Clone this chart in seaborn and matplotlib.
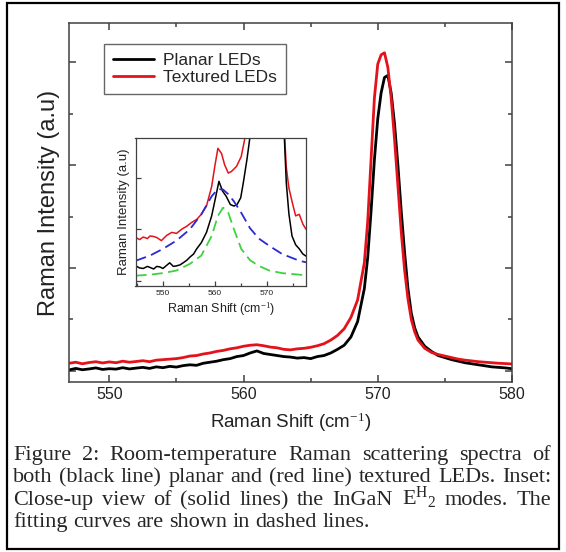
import matplotlib
matplotlib.use("Agg")
import matplotlib.pyplot as plt
from matplotlib.patches import Rectangle
from matplotlib.ticker import MultipleLocator, NullFormatter
import seaborn as sns
import pandas as pd

# main spectra (arbitrary intensity units)
main_x = [547.0, 547.5, 548.0, 548.5, 549.0, 549.5, 550.0, 550.5, 551.0, 551.5,
          552.0, 552.5, 553.0, 553.5, 554.0, 554.5, 555.0, 555.5, 556.0, 556.5,
          557.0, 557.5, 558.0, 558.5, 559.0, 559.5, 560.0, 560.5, 561.0, 561.5,
          562.0, 562.5, 563.0, 563.5, 564.0, 564.5, 565.0, 565.5, 566.0, 566.5,
          567.0, 567.5, 568.0, 568.5, 569.0, 569.25, 569.5, 569.75, 570.0, 570.25,
          570.5, 570.75, 571.0, 571.25, 571.5, 571.75, 572.0, 572.25, 572.5, 572.75,
          573.0, 573.5, 574.0, 574.5, 575.0, 575.5, 576.0, 576.5, 577.0, 577.5,
          578.0, 578.5, 579.0, 579.5, 580.0]
planar = [1010, 1025, 1012, 1020, 1030, 1015, 1022, 1018, 1032, 1020,
          1028, 1035, 1025, 1040, 1032, 1045, 1038, 1052, 1060, 1055,
          1075, 1085, 1095, 1110, 1120, 1140, 1150, 1175, 1195, 1170,
          1160, 1150, 1140, 1135, 1125, 1130, 1120, 1140, 1150, 1175,
          1210, 1250, 1330, 1480, 1800, 2100, 2550, 3050, 3450, 3700,
          3850, 3870, 3700, 3400, 3000, 2550, 2150, 1800, 1560, 1420,
          1330, 1240, 1190, 1150, 1130, 1110, 1095, 1080, 1070, 1060,
          1050, 1040, 1035, 1030, 1022]
textured = [1075, 1085, 1070, 1082, 1090, 1078, 1088, 1080, 1095, 1085,
            1092, 1100, 1090, 1105, 1110, 1115, 1120, 1130, 1145, 1150,
            1165, 1175, 1190, 1200, 1215, 1225, 1240, 1250, 1255, 1245,
            1232, 1225, 1210, 1205, 1215, 1220, 1230, 1245, 1265, 1300,
            1345, 1410, 1520, 1690, 2050, 2450, 3050, 3650, 3980, 4070,
            4090, 3950, 3650, 3250, 2800, 2350, 1980, 1700, 1500, 1380,
            1300, 1220, 1180, 1160, 1145, 1130, 1115, 1105, 1098, 1090,
            1085, 1080, 1075, 1072, 1068]

# inset close-up
ins_red_x = [544.75, 545.5, 546.2, 547.0, 547.5, 548.2, 548.8, 549.7, 550.7, 551.7,
             552.6, 553.6, 554.6, 555.5, 556.5, 557.4, 558.4, 559.4, 560.0, 560.6,
             561.3, 561.9, 562.6, 563.2, 564.2, 565.1, 565.8, 566.5,
             573.2, 573.8, 574.3, 575.0, 575.6, 576.3, 577.0, 577.6]
ins_red_y = [1.84, 1.80, 1.85, 1.82, 1.87, 1.86, 1.84, 1.78, 1.88, 1.94,
             1.92, 2.00, 2.06, 2.13, 2.19, 2.29, 2.45, 2.83, 3.22, 3.57,
             3.47, 3.25, 3.09, 3.12, 3.22, 3.41, 3.76, 4.30,
             4.30, 3.20, 2.80, 2.50, 2.26, 2.29, 2.10, 2.00]
ins_blk_x = [544.75, 545.5, 546.2, 547.0, 547.5, 548.2, 548.8, 549.4, 550.0, 550.7,
             551.3, 552.0, 552.6, 553.3, 553.9, 554.6, 555.2, 555.9, 556.5, 557.4,
             558.4, 559.4, 560.2, 560.8, 561.5, 562.2, 563.0, 563.7, 564.3, 565.0,
             565.5, 566.2, 566.8, 567.3,
             573.2, 573.8, 574.3, 574.9, 575.6, 576.3, 577.0, 577.6]
ins_blk_y = [1.29, 1.25, 1.24, 1.28, 1.26, 1.23, 1.28, 1.27, 1.24, 1.30,
             1.35, 1.28, 1.29, 1.31, 1.35, 1.40, 1.46, 1.52, 1.62, 1.74,
             1.94, 2.26, 2.64, 2.93, 2.74, 2.64, 2.48, 2.45, 2.48, 2.61,
             2.90, 3.35, 3.80, 4.30,
             4.30, 2.90, 2.30, 1.87, 1.70, 1.62, 1.52, 1.48]
fit_x = [544.75, 547.5, 550.0, 552.6, 555.2, 557.4, 559.4, 560.6, 561.6, 562.6,
         563.7, 565.1, 566.8, 568.5, 570.5, 573.0, 576.3, 577.6]
fit_broad = [1.39, 1.49, 1.62, 1.78, 2.00, 2.29, 2.64, 2.78, 2.77, 2.68,
             2.54, 2.32, 2.02, 1.82, 1.68, 1.52, 1.39, 1.36]
fit_narrow = [1.10, 1.12, 1.15, 1.20, 1.33, 1.49, 1.87, 2.26, 2.42, 2.32,
              2.00, 1.62, 1.40, 1.29, 1.20, 1.15, 1.12, 1.11]

caption = [
    "Figure 2: Room-temperature Raman scattering spectra of",
    "both (black line) planar and (red line) textured LEDs. Inset:",
    r"Close-up view of (solid lines) the InGaN E$^{\mathrm{H}}$$_{2}$ modes. The",
    "fitting curves are shown in dashed lines.",
]

sns.set_style("ticks")
plt.rcParams['font.family'] = ['Liberation Sans', 'DejaVu Sans']
plt.rcParams['mathtext.fontset'] = 'custom'
plt.rcParams['mathtext.rm'] = 'Liberation Serif'
plt.rcParams['mathtext.it'] = 'Liberation Serif:italic'

W, H = 566, 552
fig = plt.figure(figsize=(W / 100, H / 100), dpi=100)


def px_axes(l, t, r, b):
    return fig.add_axes([l / W, 1 - b / H, (r - l) / W, (b - t) / H])


def style_ax(ax, size, lw):
    for s in ax.spines.values():
        s.set_color('#404040')
        s.set_linewidth(lw)
    ax.tick_params(which='both', direction='in', top=True, right=True,
                   color='#404040', width=lw, labelsize=size, labelcolor='#222222')


df = pd.DataFrame({'x': main_x, 'Planar LEDs': planar, 'Textured LEDs': textured})
ax = px_axes(69, 23, 512, 382)
sns.lineplot(data=df, x='x', y='Planar LEDs', color='black', lw=2, ax=ax, label='Planar LEDs')
sns.lineplot(data=df, x='x', y='Textured LEDs', color='#e3121b', lw=2, ax=ax, label='Textured LEDs')
ax.set_xlim(547, 580)
ax.set_ylim(893, 4379)
ax.xaxis.set_major_locator(MultipleLocator(10))
ax.xaxis.set_minor_locator(MultipleLocator(5))
ax.yaxis.set_major_locator(MultipleLocator(1000))
ax.yaxis.set_minor_locator(MultipleLocator(500))
ax.yaxis.set_major_formatter(NullFormatter())
style_ax(ax, 11.5, 1.1)
ax.tick_params(which='major', length=5)
ax.tick_params(which='minor', length=3)
ax.set_xlabel('Raman Shift (cm$^{-1}$)', fontsize=13.5, color='#222222', labelpad=6)
ax.set_ylabel('Raman Intensity (a.u)', fontsize=17, color='#222222', labelpad=3)
leg = ax.legend(loc='upper left', bbox_to_anchor=(0.079, 0.9415), borderaxespad=0,
                fontsize=12.5, frameon=True, fancybox=False, handlelength=2.4,
                labelspacing=0.12, borderpad=0.5, handletextpad=0.5)
leg.get_frame().set_edgecolor('#404040')
leg.get_frame().set_linewidth(1.0)

# inset
ax2 = px_axes(135.5, 138, 306, 286)
sns.lineplot(x=ins_red_x, y=ins_red_y, color='#e3121b', lw=1.1, ax=ax2)
sns.lineplot(x=ins_blk_x, y=ins_blk_y, color='black', lw=1.1, ax=ax2)
sns.lineplot(x=fit_x, y=fit_broad, color='#2a2ad2', lw=1.3, ax=ax2, linestyle=(0, (6, 3)))
sns.lineplot(x=fit_x, y=fit_narrow, color='#3fd23f', lw=1.3, ax=ax2, linestyle=(0, (6, 3)))
ax2.set_xlim(544.7, 577.6)
ax2.set_ylim(0.9, 3.77)
ax2.xaxis.set_major_locator(MultipleLocator(10))
ax2.xaxis.set_minor_locator(MultipleLocator(5))
ax2.yaxis.set_major_locator(MultipleLocator(1))
ax2.yaxis.set_major_formatter(NullFormatter())
style_ax(ax2, 6, 0.9)
ax2.tick_params(which='both', top=False, right=False)
ax2.tick_params(which='major', length=3.5, pad=3)
ax2.tick_params(which='minor', length=2)
ax2.set_xlabel('Raman Shift (cm$^{-1}$)', fontsize=9, color='#222222', labelpad=2)
ax2.set_ylabel('Raman Intensity (a.u)', fontsize=9.5, color='#222222', labelpad=1)

# outer frame
fig.patches.append(Rectangle((7 / W, 3 / H), (559 - 7) / W, (549 - 3) / H,
                             transform=fig.transFigure, fill=False, lw=1.6,
                             edgecolor='black'))

# justified caption, font sized so the second line fills the width naturally
renderer = fig.canvas.get_renderer()
x0, x1 = 13, 551
probe = fig.text(0, 0, caption[1], fontsize=14, family='Liberation Serif')
cap_fs = min(16, 14 * (x1 - x0 - 4) / probe.get_window_extent(renderer).width)
probe.remove()
baselines = [460, 482, 505, 527]
for i, line in enumerate(caption):
    words = line.split(' ')
    texts = [fig.text(0, 0, w, fontsize=cap_fs, family='Liberation Serif', va='baseline')
             for w in words]
    widths = [t.get_window_extent(renderer).width for t in texts]
    if i < len(caption) - 1:
        gap = (x1 - x0 - sum(widths)) / (len(words) - 1)
    else:
        gap = cap_fs * 100 / 72 * 0.25
    x = x0
    for t, w in zip(texts, widths):
        t.set_position((x / W, 1 - baselines[i] / H))
        x += w + gap

fig.savefig('out.png', dpi=100)
